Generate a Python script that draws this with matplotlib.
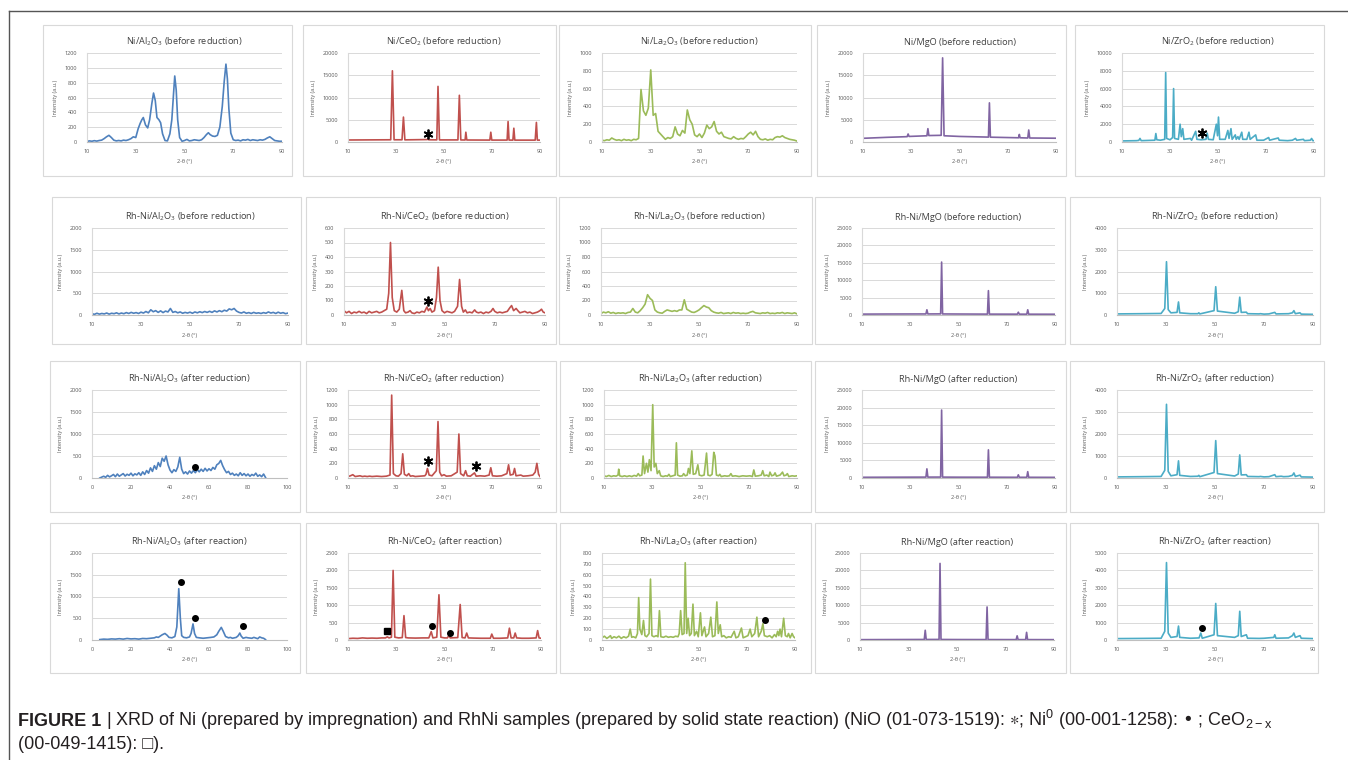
import matplotlib
matplotlib.use("Agg")
import matplotlib.pyplot as plt
from matplotlib.patches import Rectangle
from matplotlib.lines import Line2D

plt.rcParams["font.family"] = ["Open Sans", "DejaVu Sans"]
plt.rcParams["mathtext.default"] = "regular"

W, H = 1348, 760
BLUE, RED, GREEN, PURPLE, CYAN = "#4f81bd", "#c0504d", "#9bbb59", "#8064a2", "#4bacc6"

# ---------------- data: (2theta, intensity) ----------------
grid_10_90 = list(range(10, 91))
grid_4_89 = list(range(4, 90))

# row 1 : Ni catalysts before reduction
ni_al_before = [(10,8),(11,15),(12,10),(13,18),(14,12),(15,20),(16,25),(17,45),(18,70),(19,90),(20,60),(21,25),
                (22,15),(23,20),(24,15),(25,25),(26,20),(27,30),(28,45),(29,70),(30,60),(31,180),(31.8,250),
                (32.5,300),(33.1,330),(34,230),(34.9,190),(35.7,300),(36.6,520),(37.3,660),(38,560),(38.7,330),
                (39.5,300),(40.2,260),(41,110),(42,20),(43,15),(44,110),(44.8,300),(45.5,650),(46,890),(46.6,700),
                (47.2,300),(48,60),(49,10),(50,20),(51,35),(52,15),(53,20),(54,30),(55,25),(56,20),(57,30),(58,60),
                (59,100),(59.8,125),(60.5,100),(61.5,80),(62.5,75),(63.5,90),(64.5,200),(65.5,480),(66.3,820),
                (67,1050),(67.6,850),(68.2,450),(69,120),(70,30),(71,20),(72,25),(73,15),(74,30),(75,25),(76,35),
                (77,20),(78,30),(79,25),(80,20),(81,30),(82,25),(83,35),(84,55),(85,70),(86,45),(87,20),(88,15),
                (89,10),(90,10)]
ni_ce_before = [(10,450),(20,480),(27.8,500),(28.5,16000),(29.2,500),(32.5,500),(33.1,5600),(33.7,480),(43,550),
                (43.3,700),(43.6,500),(47,480),(47.5,12500),(48.1,470),(55.8,470),(56.4,10500),(57,460),(58.8,450),
                (59.1,2200),(59.5,450),(69.1,430),(69.5,2200),(69.9,430),(76.3,430),(76.7,4600),(77.1,430),
                (78.7,420),(79.1,3100),(79.5,420),(88,420),(88.5,4400),(88.9,420),(90,420)]
ni_la_before_y = [20,15,25,20,45,30,20,25,15,30, 20,25,15,30,25,40,590,350,300,380,
                  810,300,320,120,90,60,30,50,40,60, 170,90,70,130,100,360,250,200,80,60,
                  90,50,100,190,150,170,230,120,90,110, 60,50,40,35,60,40,30,40,35,60,
                  90,110,80,120,60,30,25,35,20,30, 25,50,60,55,70,50,40,30,25,20,10]
ni_mg_before = [(10,830),(20,1050),(28.3,1200),(28.7,1800),(29.1,1250),(36.5,1400),(36.9,3000),(37.3,1450),
                (42.4,1500),(43,18900),(43.6,1400),(50,1250),(62,1100),(62.4,8800),(62.8,1080),(74.5,950),
                (74.8,1700),(75.1,950),(78.3,900),(78.7,2700),(79.1,900),(90,850)]
ni_zr_before = [(10,120),(16,150),(17,180),(17.5,400),(18,150),(23.7,200),(24.1,950),(24.5,250),(26,200),
                (27.8,300),(28.2,7800),(28.6,400),(30,250),(31.1,500),(31.5,6000),(31.9,400),(33.5,300),
                (34.2,2000),(34.7,600),(35.3,1500),(35.8,300),(38.5,400),(39,200),(40.7,1200),(41.2,300),
                (43,250),(45,300),(45.5,1000),(46,300),(48,250),(49.3,2000),(49.8,700),(50.2,2800),(50.7,300),
                (53,300),(54.1,1300),(54.6,400),(55.4,1500),(55.9,300),(57.2,800),(57.6,300),(58.3,600),
                (58.8,300),(59.9,1100),(60.3,300),(62,300),(62.9,1100),(63.4,300),(65.7,800),(66.2,200),
                (69,200),(71.1,500),(71.5,200),(75.1,450),(75.5,200),(79,150),(81,200),(82.3,400),(82.8,200),
                (85.6,300),(86,150),(88.5,200),(89,400),(89.5,150),(90,150)]

# row 2 : Rh-Ni before reduction
rh_al_before_y = [30,15,40,20,35,25,45,20,40,30, 50,25,45,30,55,35,60,40,55,35,
                  65,45,80,50,120,75,100,60,95,55, 90,70,150,60,80,50,70,40,60,45,
                  65,40,70,50,75,55,80,60,85,60, 95,70,100,75,110,90,140,120,150,90,
                  60,45,70,40,55,35,60,40,50,35, 55,40,70,45,60,35,65,40,55,30,45]
rh_ce_before = [(10,30),(11,15),(12,25),(13,10),(14,20),(15,15),(16,25),(17,15),(18,20),(19,10),(20,25),(21,15),
                (22,20),(23,25),(24,15),(25,20),(26,30),(27,40),(27.8,150),(28.5,500),(29.2,120),(30,30),(31,20),
                (32,40),(33,170),(33.8,30),(34.5,15),(35.5,20),(36.3,30),(37,15),(38,10),(39,20),(40,15),(41,25),
                (42,20),(43,55),(43.6,30),(44.3,45),(45,20),(46,30),(46.8,120),(47.5,330),(48.2,100),(49,30),
                (50,15),(51,25),(52,20),(53,15),(54,25),(55.2,60),(56,245),(56.8,60),(57.5,20),(58.3,35),(59,15),
                (60,20),(61,15),(62,35),(62.7,20),(63.5,15),(64.5,20),(65.5,10),(66.5,20),(67.5,15),(68.5,25),
                (69.3,45),(70,25),(71,15),(72,20),(73,15),(74,20),(75,25),(76,50),(76.7,65),(77.5,30),(78.5,45),
                (79.2,30),(80,15),(81,20),(82,25),(83,15),(84,20),(85,10),(86,15),(87,20),(88,30),(88.6,40),
                (89.3,20),(90,15)]
rh_la_before_y = [20,40,30,45,25,35,20,30,25,30, 20,35,40,90,40,30,60,100,150,280,
                  230,200,70,40,30,25,50,70,60,50, 60,50,70,70,210,80,60,40,35,50,
                  70,100,130,110,100,60,40,30,25,35, 20,25,30,20,35,25,30,20,25,20,
                  25,40,50,30,25,20,30,25,35,20, 25,20,30,25,35,20,30,25,20,30,15]
rh_mg_before = [(10,250),(20,280),(36.5,300),(36.9,1500),(37.3,300),(42.6,320),(43,15200),(43.4,300),(50,280),
                (62,250),(62.4,7000),(62.8,250),(74.4,240),(74.8,800),(75.2,240),(78.3,230),(78.7,1500),
                (79.1,230),(90,220)]
rh_zr_before = [(10,50),(20,60),(28,70),(29.5,300),(30.2,2450),(30.9,250),(32,100),(34.5,120),(35.1,600),
                (35.6,100),(40,60),(43,60),(43.4,100),(43.8,50),(49.6,200),(50.3,1300),(51,180),(58,80),
                (59.5,150),(60.1,820),(60.7,120),(62.8,130),(63.3,60),(68,50),(68.5,60),(70,40),(72,50),
                (74.4,120),(74.9,50),(80,60),(81.6,100),(82.2,200),(82.8,60),(84.7,100),(85.2,40),(90,30)]

# row 3 : Rh-Ni after reduction
rh_al_red_y = [0,20,40,15,60,25,50,80,30,90, 40,70,100,45,85,60,110,50,95,70,
               120,60,140,80,170,110,230,150,280,200, 350,260,450,380,500,300,180,120,190,150,
               250,470,200,100,140,90,160,110,170,120, 190,140,200,150,220,160,210,170,240,200,
               300,330,400,280,190,120,150,80,110,60, 90,50,120,60,100,50,90,40,80,55,
               110,40,70,30,90,10]
rh_ce_red = [(10,20),(11,30),(12,45),(13,20),(14,25),(15,30),(16,20),(17,25),(18,20),(19,25),(20,20),(22,25),
             (24,20),(26,25),(27.5,40),(28.2,1130),(28.9,60),(30,30),(31,25),(32.1,60),(32.8,330),(33.5,50),
             (34.5,30),(35.3,60),(36,25),(37,30),(38,20),(40,25),(42,30),(42.5,50),(43.1,130),(43.8,40),(45,30),
             (46.8,100),(47.5,770),(48.2,80),(49,30),(50,45),(51,25),(53,30),(55.5,80),(56.2,600),(56.9,60),
             (58.2,30),(59,100),(59.7,30),(61,25),(62.7,70),(63.4,25),(65,30),(67,25),(68.8,40),(69.5,140),
             (70.2,30),(72,25),(74,30),(76.2,60),(76.9,180),(77.6,40),(78.8,50),(79.4,130),(80,30),(82,40),
             (83,25),(85,30),(87,40),(88,80),(88.7,200),(89.4,50),(90,20)]
rh_la_red = [(10,30),(11,20),(12,35),(13,20),(14,30),(15,25),(15.8,40),(16.1,120),(16.5,30),(17.5,20),(18.5,30),
             (19.5,20),(20.5,30),(21.5,20),(22.5,35),(23.5,25),(24.2,60),(24.8,30),(25.7,40),(26.2,300),(26.8,60),
             (27.6,200),(28.2,80),(28.8,250),(29.5,100),(30.2,1000),(30.8,150),(31.5,200),(32.1,60),(32.9,100),
             (33.5,30),(34.5,20),(35.5,30),(36.3,25),(36.9,50),(37.5,20),(38.5,30),(39.5,40),(40,480),(40.5,40),
             (41.5,25),(42.5,30),(43,60),(43.7,30),(44.5,40),(45,130),(45.6,60),(46.4,370),(47,50),(48,60),
             (48.9,180),(49.5,40),(50.5,30),(51.5,40),(52.5,340),(53.1,40),(54,30),(54.8,50),(55.5,350),(56,300),
             (56.6,40),(57.5,30),(58,50),(58.6,20),(60,30),(61,25),(62,30),(62.6,60),(63.2,25),(64.5,30),(66,20),
             (67.5,30),(69,25),(70.5,30),(71.5,20),(72.1,110),(72.7,25),(74,30),(75.2,40),(75.8,100),(76.4,30),
             (77.5,40),(78.3,20),(78.8,80),(79.5,30),(80.4,40),(80.9,70),(81.5,25),(83,40),(84,80),(84.6,30),
             (85.5,40),(86,60),(86.6,20),(88,30),(89,25),(90,30)]
rh_mg_red = [(10,200),(20,220),(36.5,250),(36.9,2600),(37.3,250),(42.6,260),(43,19300),(43.4,250),(50,230),
             (62,220),(62.4,8000),(62.8,220),(74.4,200),(74.8,900),(75.2,200),(78.3,200),(78.7,1800),(79.1,200),
             (90,180)]
rh_zr_red = [(10,50),(20,60),(28,70),(29.5,350),(30.2,3350),(30.9,300),(32,100),(34.5,150),(35.1,780),(35.6,120),
             (40,70),(43,80),(43.4,120),(43.8,60),(49.6,250),(50.3,1700),(51,200),(58,90),(59.5,180),(60.1,1050),
             (60.7,140),(62.8,150),(63.3,70),(68,60),(68.5,70),(70,50),(72,60),(74.4,150),(74.9,60),(77,80),
             (78,60),(80,70),(81.6,120),(82.2,230),(82.8,70),(84.7,130),(85.2,50),(90,40)]

# row 4 : Rh-Ni after reaction
rh_al_reac = [(4,10),(6,20),(8,15),(10,25),(12,20),(14,30),(16,20),(18,35),(20,25),(22,30),(24,20),(26,35),(28,30),
              (30,40),(32,50),(33,70),(34,60),(35,90),(36,120),(37.4,150),(38.5,110),(39.5,60),(41,50),(42.5,80),
              (43.5,300),(44.5,1180),(45.3,500),(46,100),(47,60),(48.5,50),(50,70),(50.8,150),(51.8,370),(52.6,150),
              (53.5,60),(55,50),(57,40),(59,50),(61,60),(62.5,70),(64,120),(65,200),(66.3,290),(67.3,200),(68.5,80),
              (70,50),(71,60),(72,40),(73,50),(74,60),(75,100),(75.8,160),(76.5,90),(77.5,40),(79,60),(80,50),
              (82,40),(83,60),(85,30),(86,70),(87,50),(88,40),(89,10)]
rh_ce_reac = [(10,40),(12,50),(14,45),(16,60),(18,50),(20,55),(22,50),(24,60),(25.5,60),(26.3,90),(27,60),(28,80),
              (28.7,2000),(29.4,80),(31,60),(32.5,70),(33.2,700),(33.9,70),(35,60),(38,55),(41,60),(43.5,60),
              (44.5,240),(45.2,60),(46.8,80),(47.7,1300),(48.5,80),(50,60),(51.2,60),(51.8,130),(52.4,60),
              (55.5,70),(56.5,1020),(57.3,70),(58.5,60),(59.2,200),(59.9,60),(62,55),(65,50),(69,50),(69.6,170),
              (70.3,50),(73,50),(76.2,60),(76.9,340),(77.6,60),(78.7,60),(79.3,200),(79.9,60),(82,50),(85,50),
              (88,60),(88.6,270),(89.2,60),(90,50)]
rh_la_reac = [(10,20),(11,35),(12,15),(13,30),(13.5,40),(14,15),(15,30),(16,20),(17,35),(18,15),(19,30),(20,20),
              (21,35),(21.7,100),(22.3,25),(23,30),(24,20),(24.7,60),(25.2,390),(25.7,100),(26.5,50),(27.2,180),
              (27.8,40),(28.5,30),(29.5,60),(30.1,560),(30.7,40),(31.5,30),(32.5,40),(33.2,30),(33.8,270),
              (34.4,30),(35.5,25),(36.5,35),(37.5,25),(38.5,30),(39.5,25),(40.5,35),(41.5,30),(42,60),(42.6,270),
              (43.2,50),(44,60),(44.5,710),(45.1,60),(45.7,200),(46.3,40),(47,60),(47.7,330),(48.3,40),(49.2,80),
              (49.9,30),(50.8,250),(51.4,40),(52.5,120),(53.1,30),(54.2,60),(55.1,210),(55.8,30),(56.8,40),
              (57.6,350),(58.2,60),(59,140),(59.6,30),(60.5,40),(61.5,20),(62.5,30),(63.5,25),(64.8,80),(65.5,20),
              (66.5,30),(67.8,110),(68.5,20),(69.5,30),(70.5,40),(71.4,100),(72.1,30),(73.3,60),(74.2,210),
              (74.9,30),(76,80),(76.7,150),(77.3,40),(78.5,30),(79.5,40),(80.5,20),(81.5,50),(82.2,30),(82.8,80),
              (83.3,40),(83.8,100),(84.4,30),(85.3,200),(86,40),(86.8,30),(87.3,60),(88,20),(88.8,60),(89.4,30),
              (90,20)]
rh_mg_reac = [(10,100),(20,120),(36.5,150),(36.9,2800),(37.3,150),(42.6,160),(43,22000),(43.4,150),(50,130),
              (62,120),(62.4,9500),(62.8,120),(74.4,110),(74.8,1200),(75.2,110),(78.3,110),(78.7,2200),(79.1,110),
              (90,100)]
rh_zr_reac = [(10,80),(20,90),(28,100),(29.5,500),(30.2,4450),(30.9,400),(32,150),(34.5,200),(35.1,800),(35.6,150),
              (40,100),(43.5,120),(44.2,400),(44.8,100),(49.6,300),(50.3,2100),(51,250),(58,150),(59.5,250),
              (60.1,1650),(60.7,200),(62.8,300),(63.3,100),(68,90),(70,100),(74,150),(74.4,300),(74.9,100),
              (80,120),(81.6,250),(82.2,400),(82.8,150),(84.7,250),(85.2,100),(90,80)]

# phase markers (NiO: star, Ni0: dot, CeO2-x: square)
stars_ni_ce_before = [(43.5, 1700)]
stars_ni_zr_before = [(43.5, 1050)]
stars_rh_ce_before = [(43.4, 100)]
dots_rh_al_red = [(53, 250)]
stars_rh_ce_red = [(43.5, 230), (63.5, 160)]
dots_rh_al_reac = [(45.6, 1330), (52.8, 500), (77.4, 330)]
squares_rh_ce_reac = [(26.3, 250)]
dots_rh_ce_reac = [(44.8, 390), (52.1, 210)]
dots_rh_la_reac = [(77.7, 185)]
dots_rh_zr_reac = [(44.6, 680)]

AL, CE, LA, MG, ZR = "Al$_2$O$_3$", "CeO$_2$", "La$_2$O$_3$", "MgO", "ZrO$_2$"

# title, data, color, ymax, ystep, (xmin, xmax, xstep), markers
panels = [
    [("Ni/%s (before reduction)" % AL, ni_al_before, BLUE, 1200, 200, (10, 90, 20), []),
     ("Ni/%s (before reduction)" % CE, ni_ce_before, RED, 20000, 5000, (10, 90, 20), [("star", stars_ni_ce_before)]),
     ("Ni/%s (before reduction)" % LA, list(zip(grid_10_90, ni_la_before_y)), GREEN, 1000, 200, (10, 90, 20), []),
     ("Ni/%s (before reduction)" % MG, ni_mg_before, PURPLE, 20000, 5000, (10, 90, 20), []),
     ("Ni/%s (before reduction)" % ZR, ni_zr_before, CYAN, 10000, 2000, (10, 90, 20), [("star", stars_ni_zr_before)])],
    [("Rh-Ni/%s (before reduction)" % AL, list(zip(grid_10_90, rh_al_before_y)), BLUE, 2000, 500, (10, 90, 20), []),
     ("Rh-Ni/%s (before reduction)" % CE, rh_ce_before, RED, 600, 100, (10, 90, 20), [("star", stars_rh_ce_before)]),
     ("Rh-Ni/%s (before reduction)" % LA, list(zip(grid_10_90, rh_la_before_y)), GREEN, 1200, 200, (10, 90, 20), []),
     ("Rh-Ni/%s (before reduction)" % MG, rh_mg_before, PURPLE, 25000, 5000, (10, 90, 20), []),
     ("Rh-Ni/%s (before reduction)" % ZR, rh_zr_before, CYAN, 4000, 1000, (10, 90, 20), [])],
    [("Rh-Ni/%s (after reduction)" % AL, list(zip(grid_4_89, rh_al_red_y)), BLUE, 2000, 500, (0, 100, 20), [("dot", dots_rh_al_red)]),
     ("Rh-Ni/%s (after reduction)" % CE, rh_ce_red, RED, 1200, 200, (10, 90, 20), [("star", stars_rh_ce_red)]),
     ("Rh-Ni/%s (after reduction)" % LA, rh_la_red, GREEN, 1200, 200, (10, 90, 20), []),
     ("Rh-Ni/%s (after reduction)" % MG, rh_mg_red, PURPLE, 25000, 5000, (10, 90, 20), []),
     ("Rh-Ni/%s (after reduction)" % ZR, rh_zr_red, CYAN, 4000, 1000, (10, 90, 20), [])],
    [("Rh-Ni/%s (after reaction)" % AL, rh_al_reac, BLUE, 2000, 500, (0, 100, 20), [("dot", dots_rh_al_reac)]),
     ("Rh-Ni/%s (after reaction)" % CE, rh_ce_reac, RED, 2500, 500, (10, 90, 20),
      [("square", squares_rh_ce_reac), ("dot", dots_rh_ce_reac)]),
     ("Rh-Ni/%s (after reaction)" % LA, rh_la_reac, GREEN, 800, 100, (10, 90, 20), [("dot", dots_rh_la_reac)]),
     ("Rh-Ni/%s (after reaction)" % MG, rh_mg_reac, PURPLE, 25000, 5000, (10, 90, 20), []),
     ("Rh-Ni/%s (after reaction)" % ZR, rh_zr_reac, CYAN, 5000, 1000, (10, 90, 20), [("dot", dots_rh_zr_reac)])],
]

# ---------------- layout (pixels of the 1348x760 image) ----------------
row_y = [(53, 142), (228, 315), (390, 478), (553, 640)]
col_x = [[(87, 282), (348, 540), (602, 797), (863, 1056), (1122, 1314)],
         [(92, 288), (344, 545), (601, 797), (862, 1055), (1117, 1313)],
         [(92, 287), (348, 540), (604, 797), (862, 1055), (1117, 1313)],
         [(92, 287), (348, 541), (602, 795), (860, 1054), (1117, 1313)]]
box_y = [(25, 176), (197, 344), (361, 512), (523, 673)]
box_x = [[(43, 292), (303, 556), (559, 811), (817, 1066), (1075, 1324)],
         [(52, 301), (306, 556), (559, 812), (815, 1065), (1070, 1320)],
         [(50, 300), (306, 556), (560, 811), (815, 1066), (1070, 1324)],
         [(50, 300), (306, 556), (560, 811), (815, 1066), (1070, 1318)]]

fig = plt.figure(figsize=(W / 100, H / 100), dpi=100)

# outer frame (top and left)
fig.add_artist(Line2D([9 / W, 1], [1 - 11 / H, 1 - 11 / H], color="#555555", lw=1))
fig.add_artist(Line2D([9 / W, 9 / W], [0, 1 - 11 / H], color="#555555", lw=1))

mark_style = {"star": dict(marker=(6, 2, 0), ms=7, mew=1.3),
              "dot": dict(marker="o", ms=4),
              "square": dict(marker="s", ms=4)}

for r, row in enumerate(panels):
    for c, (title, data, color, ymax, ystep, (x0, x1, xs), marks) in enumerate(row):
        bx0, bx1 = box_x[r][c]
        by0, by1 = box_y[r]
        fig.add_artist(Rectangle((bx0 / W, 1 - by1 / H), (bx1 - bx0) / W, (by1 - by0) / H,
                                 transform=fig.transFigure, fill=False, ec="#d9d9d9", lw=0.8))
        L, R = col_x[r][c]
        T, B = row_y[r]
        ax = fig.add_axes([L / W, 1 - B / H, (R - L) / W, (B - T) / H])
        xs_data = [p[0] for p in data]
        ys_data = [p[1] for p in data]
        ax.plot(xs_data, ys_data, color=color, lw=1.2)
        for kind, pts in marks:
            ax.plot([p[0] for p in pts], [p[1] for p in pts], ls="none", color="black",
                    **mark_style[kind])
        ax.set_xlim(x0, x1)
        ax.set_ylim(0, ymax)
        ax.set_xticks(range(x0, x1 + 1, xs))
        ax.set_yticks(range(0, ymax + 1, ystep))
        ax.grid(axis="y", color="#d9d9d9", lw=0.7)
        ax.set_axisbelow(True)
        for s in ["top", "right"]:
            ax.spines[s].set_visible(False)
        ax.spines["left"].set_color("#d9d9d9")
        ax.spines["bottom"].set_color("#bfbfbf")
        ax.tick_params(length=0, labelsize=4, labelcolor="#595959")
        ax.tick_params(axis="y", pad=7)
        ax.tick_params(axis="x", pad=5)
        ax.set_xlabel("2-θ (°)", fontsize=4, color="#595959", labelpad=4)
        ax.set_ylabel("Intensity (a.u.)", fontsize=4, color="#595959", labelpad=5)
        ax.set_title(title, fontsize=6.6, color="#404040", pad=6)

# ---------------- caption ----------------
cap_family = ["Liberation Sans", "DejaVu Sans"]
cap_color = "#231f20"
cap_size = 13
y1 = 1 - 726 / H
y2 = 1 - 749 / H
fig.canvas.draw()
rend = fig.canvas.get_renderer()
t1 = fig.text(18 / W, y1, "FIGURE 1", fontsize=cap_size, fontweight="bold", family=cap_family,
              color=cap_color, va="baseline")
bb = t1.get_window_extent(renderer=rend)
fig.text(bb.x1 / fig.bbox.width, y1,
         " | XRD of Ni (prepared by impregnation) and RhNi samples (prepared by solid state reaction) "
         "(NiO (01-073-1519): $\\ast$; Ni$^{0}$ (00-001-1258): \u2022 ; CeO$_{2-x}$",
         fontsize=cap_size, family=cap_family, color=cap_color, va="baseline")
fig.text(18 / W, y2, "(00-049-1415): \u25a1).", fontsize=cap_size, family=cap_family,
         color=cap_color, va="baseline")

fig.savefig("out.png", dpi=100)
